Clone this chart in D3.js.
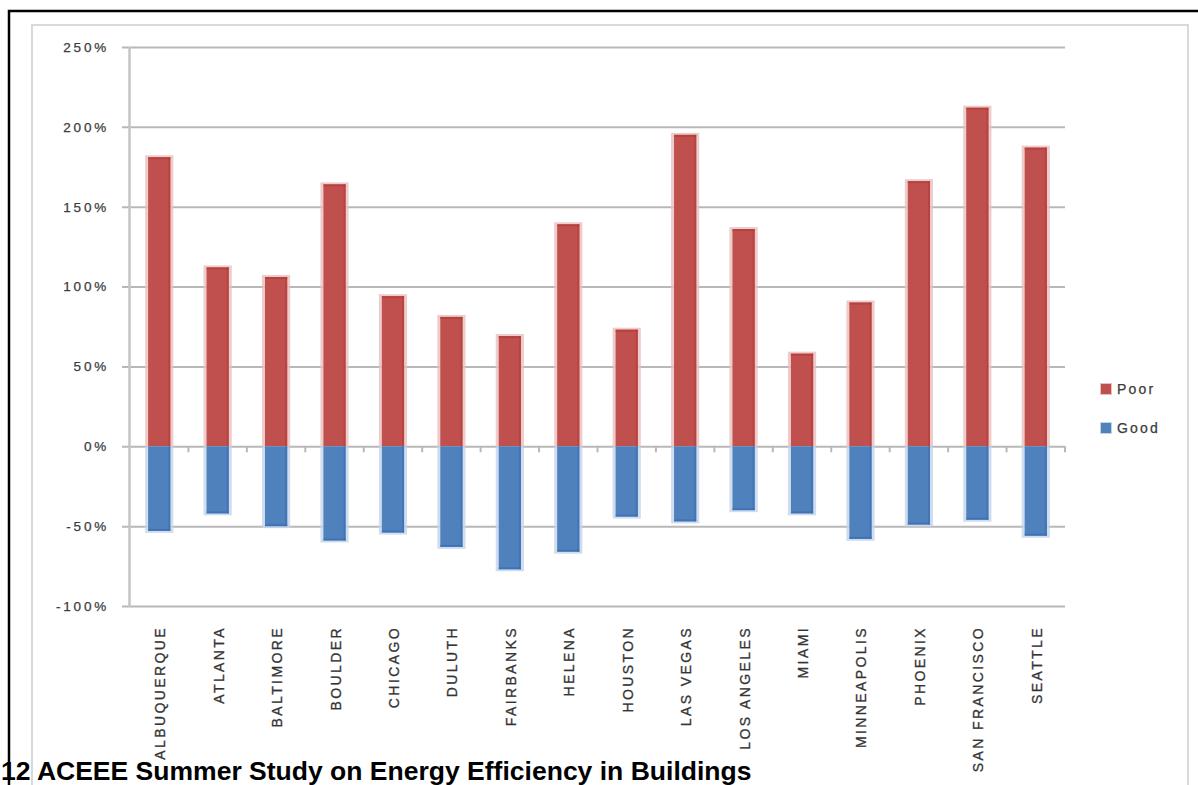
<!DOCTYPE html>
<html lang="en">
<head>
  <meta charset="UTF-8" />
  <title>Poor vs Good by city</title>
  <style>
    body { margin: 0; background: #fff; }
    svg { display: block; }
  </style>
</head>
<body>
  <svg width="1198" height="785"></svg>
  <script src="https://d3js.org/d3.v7.min.js"></script>
  <script>
    const cities = ["ALBUQUERQUE", "ATLANTA", "BALTIMORE", "BOULDER", "CHICAGO", "DULUTH",
      "FAIRBANKS", "HELENA", "HOUSTON", "LAS VEGAS", "LOS ANGELES", "MIAMI",
      "MINNEAPOLIS", "PHOENIX", "SAN FRANCISCO", "SEATTLE"];
    const poor = [181, 112, 106, 164, 94, 81, 69, 139, 73, 195, 136, 58, 90, 166, 212, 187];
    const good = [-53, -42, -50, -59, -54, -63, -77, -66, -44, -47, -40, -42, -58, -49, -46, -56];
    const yTicks = [-100, -50, 0, 50, 100, 150, 200, 250];
    const seriesNames = ["Poor", "Good"];
    const footer = "12 ACEEE Summer Study on Energy Efficiency in Buildings";

    const svg = d3.select("svg");
    const plotL = 130, plotR = 1065, plotT = 47, plotB = 606;

    // outer black frame and grey chart frame (both run off the page)
    svg.append("rect").attr("x", 9).attr("y", 11).attr("width", 1300).attr("height", 900)
      .attr("fill", "none").attr("stroke", "#000").attr("stroke-width", 2.5);
    svg.append("rect").attr("x", 32).attr("y", 25).attr("width", 1156).attr("height", 900)
      .attr("fill", "none").attr("stroke", "#d9d9d9").attr("stroke-width", 2);

    const x = d3.scaleBand().domain(cities).range([plotL, plotR])
      .paddingInner(0.62).paddingOuter(0.31);
    const y = d3.scaleLinear().domain([-100, 250]).range([plotB, plotT]);

    // y axis with gridlines
    const yAxis = svg.append("g")
      .attr("transform", `translate(${plotL},0)`)
      .call(d3.axisLeft(y).tickValues(yTicks).tickSizeInner(8).tickSizeOuter(0)
        .tickPadding(13).tickFormat(d => d + "%"));
    yAxis.select(".domain").remove();
    yAxis.selectAll(".tick line")
      .attr("x1", plotR - plotL).attr("stroke", "#b8b8b8").attr("stroke-width", 2);
    yAxis.selectAll(".tick text")
      .attr("font-family", "Liberation Sans, Arial, sans-serif")
      .attr("font-size", 13.5).attr("letter-spacing", 2.8).attr("fill", "#3c3c3c")
      .attr("stroke", "#3c3c3c").attr("stroke-width", 0.25);
    svg.append("line").attr("x1", plotL - 0.5).attr("x2", plotL - 0.5)
      .attr("y1", plotT).attr("y2", plotB + 1)
      .attr("stroke", "#c4c4c4").attr("stroke-width", 2.5);

    // category boundary ticks on the zero line
    const step = x.step();
    svg.append("g").selectAll("line")
      .data(cities)
      .join("line")
      .attr("x1", d => x(d) + x.bandwidth() / 2 + step / 2)
      .attr("x2", d => x(d) + x.bandwidth() / 2 + step / 2)
      .attr("y1", y(0)).attr("y2", y(0) + 6)
      .attr("stroke", "#b8b8b8").attr("stroke-width", 2);

    // bars
    const colors = {
      Poor: { fill: "#c0504d", edge: "#b33b38", halo: "#e9bfbe" },
      Good: { fill: "#4f81bd", edge: "#3b6db3", halo: "#c3d4ea" }
    };
    function drawBars(vals, name) {
      const c = colors[name];
      const g = svg.append("g");
      const rows = cities.map((city, i) => ({ city, v: vals[i] }));
      g.selectAll("rect.halo").data(rows).join("rect")
        .attr("class", "halo")
        .attr("x", d => x(d.city) - 3)
        .attr("width", x.bandwidth() + 6)
        .attr("y", d => Math.min(y(d.v), y(0)) - (d.v > 0 ? 2 : 0))
        .attr("height", d => Math.abs(y(d.v) - y(0)) + 2)
        .attr("fill", c.halo).attr("opacity", 0.8);
      g.selectAll("rect.core").data(rows).join("rect")
        .attr("class", "core")
        .attr("x", d => x(d.city))
        .attr("width", x.bandwidth())
        .attr("y", d => Math.min(y(d.v), y(0)))
        .attr("height", d => Math.abs(y(d.v) - y(0)))
        .attr("fill", c.fill);
      // darker right and outer edges
      g.selectAll("rect.redge").data(rows).join("rect")
        .attr("class", "redge")
        .attr("x", d => x(d.city) + x.bandwidth() - 2)
        .attr("width", 2)
        .attr("y", d => Math.min(y(d.v), y(0)))
        .attr("height", d => Math.abs(y(d.v) - y(0)))
        .attr("fill", c.edge).attr("opacity", 0.6);
      g.selectAll("rect.tedge").data(rows).join("rect")
        .attr("class", "tedge")
        .attr("x", d => x(d.city))
        .attr("width", x.bandwidth())
        .attr("y", d => d.v > 0 ? y(d.v) : y(d.v) - 2)
        .attr("height", 2)
        .attr("fill", c.edge).attr("opacity", 0.7);
    }
    drawBars(poor, "Poor");
    drawBars(good, "Good");

    // category labels
    const xAxis = svg.append("g")
      .attr("transform", `translate(0,${plotB})`)
      .call(d3.axisBottom(x).tickSize(0));
    xAxis.select(".domain").remove();
    xAxis.selectAll(".tick text")
      .attr("transform", "rotate(-90)")
      .attr("x", -20).attr("y", 6).attr("dy", 0)
      .attr("text-anchor", "end")
      .attr("font-family", "Liberation Sans, Arial, sans-serif")
      .attr("font-size", 14).attr("letter-spacing", 2.4).attr("fill", "#333")
      .attr("stroke", "#333").attr("stroke-width", 0.3);

    // legend
    const legend = svg.append("g").selectAll("g").data(seriesNames).join("g")
      .attr("transform", (d, i) => `translate(1101,${389 + i * 39})`);
    legend.append("rect").attr("x", -1).attr("y", -6).attr("width", 12).attr("height", 12)
      .attr("fill", d => colors[d].halo);
    legend.append("rect").attr("x", 0).attr("y", -5).attr("width", 10).attr("height", 10)
      .attr("fill", d => colors[d].fill);
    legend.append("text").attr("x", 16).attr("y", 5)
      .attr("font-family", "Liberation Sans, Arial, sans-serif")
      .attr("font-size", 14).attr("letter-spacing", 2.2).attr("fill", "#3c3c3c")
      .attr("stroke", "#3c3c3c").attr("stroke-width", 0.25)
      .text(d => d);

    // footer text at the bottom edge of the page
    const ft = svg.append("text").attr("x", 1).attr("y", 780)
      .attr("font-family", "Liberation Sans, Arial, sans-serif")
      .attr("font-weight", "bold").attr("font-size", 21).attr("fill", "#000")
      .text(footer);
    const w = ft.node().getComputedTextLength();
    ft.attr("font-size", 21 * 751 / w);
  </script>
</body>
</html>
